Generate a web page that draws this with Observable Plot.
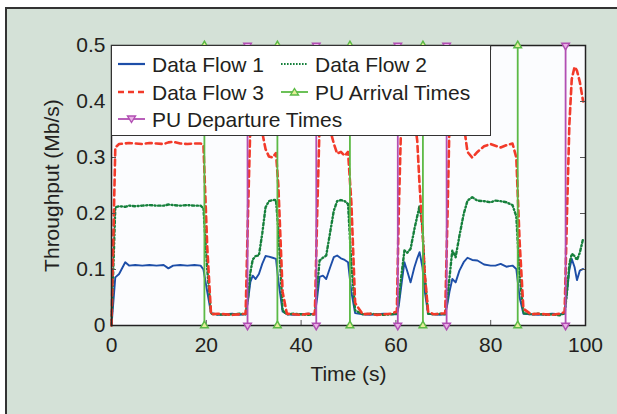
<!DOCTYPE html>
<html><head><meta charset="utf-8">
<script src="https://cdn.jsdelivr.net/npm/d3@7"></script>
<script src="https://cdn.jsdelivr.net/npm/@observablehq/plot@0.6"></script>
<style>
html,body{margin:0;padding:0;background:#fff;}
#wrap{position:relative;width:617px;height:414px;overflow:hidden;font-family:"Liberation Sans",Arial,Helvetica,sans-serif;}
#panel{position:absolute;left:5px;top:7px;width:660px;height:460px;background:#d4e1d7;border-left:2px solid #333;border-top:2px solid #333;}
#chart{position:absolute;left:0;top:0;}
#legend{position:absolute;left:111px;top:45px;width:380px;height:91px;background:#fff;border:1.5px solid #333;box-sizing:border-box;}
.sw{position:absolute;width:30px;height:14px;transform:translateY(-50%);}
.lt{position:absolute;font-size:21px;line-height:21px;color:#231f20;white-space:nowrap;transform:translateY(-50%);}
</style>
</head><body>
<div id="wrap">
  <div id="panel"></div>
  <div id="chart"></div>
  <div id="legend"></div>
</div>
<script>
// ---- data ----
const T = [0,0.8,1.6,2.9,3.7,5,6.5,8,9.5,11,12,13,14.5,16,17.5,18.8,19.4,20.2,21,22.5,24,25.5,27,28.3,
  28.8,29.3,29.8,30.4,31.1,31.8,32.5,33.2,34,34.7,35.2,36.1,37,38.5,40,41.5,42.9,
  43.4,43.9,44.6,45.3,46.1,46.9,47.6,48.4,49.2,49.9,50.6,51.4,53,54.5,56,57.5,59,60.2,
  60.6,61.1,61.8,62.4,63.1,63.9,64.5,65.0,65.6,66.1,66.8,68,69.3,70.4,
  70.9,71.3,71.9,72.6,73.4,74.3,75.1,76.1,77.2,78.6,80,81,82.1,83.3,84.6,85.4,86.1,86.9,88.5,90,91.5,93,94.5,95.6,
  96.1,96.6,97.1,97.7,98.2,98.8,99.5];
const flow1 = [0,0.086,0.092,0.113,0.107,0.108,0.107,0.108,0.107,0.108,0.102,0.107,0.108,0.107,0.108,0.107,0.1,0.06,0.022,0.019,0.02,0.021,0.019,0.02,
  0.045,0.078,0.089,0.083,0.092,0.110,0.124,0.123,0.121,0.119,0.08,0.025,0.02,0.019,0.02,0.021,0.02,
  0.05,0.087,0.089,0.083,0.103,0.122,0.125,0.120,0.117,0.113,0.06,0.022,0.02,0.019,0.02,0.021,0.02,0.02,
  0.035,0.068,0.113,0.097,0.077,0.104,0.12,0.131,0.104,0.06,0.021,0.02,0.019,0.02,
  0.04,0.06,0.083,0.077,0.098,0.113,0.121,0.117,0.116,0.109,0.107,0.107,0.110,0.105,0.107,0.101,0.05,0.021,0.02,0.019,0.02,0.021,0.02,0.021,
  0.06,0.1,0.119,0.104,0.081,0.098,0.101];
const flow2 = [0,0.211,0.213,0.212,0.214,0.213,0.214,0.215,0.214,0.214,0.216,0.215,0.214,0.215,0.214,0.214,0.209,0.10,0.021,0.02,0.019,0.02,0.021,0.02,
  0.05,0.095,0.118,0.124,0.125,0.164,0.211,0.222,0.224,0.224,0.17,0.027,0.02,0.021,0.02,0.019,0.02,
  0.07,0.116,0.121,0.125,0.165,0.205,0.222,0.224,0.222,0.217,0.11,0.027,0.02,0.021,0.02,0.019,0.02,0.021,
  0.045,0.085,0.134,0.130,0.137,0.172,0.195,0.214,0.175,0.09,0.021,0.02,0.021,0.02,
  0.05,0.085,0.134,0.122,0.16,0.199,0.223,0.229,0.223,0.222,0.220,0.223,0.222,0.220,0.215,0.195,0.09,0.022,0.02,0.021,0.019,0.02,0.018,0.022,
  0.06,0.11,0.128,0.124,0.117,0.13,0.155];
const flow3 = [0,0.318,0.324,0.325,0.326,0.325,0.324,0.326,0.325,0.324,0.327,0.328,0.325,0.324,0.325,0.325,0.322,0.14,0.02,0.021,0.02,0.019,0.02,0.021,
  0.2,0.36,0.38,0.38,0.37,0.345,0.315,0.302,0.300,0.308,0.25,0.06,0.021,0.02,0.019,0.021,0.02,
  0.2,0.36,0.39,0.38,0.35,0.325,0.307,0.31,0.303,0.31,0.22,0.04,0.02,0.021,0.019,0.02,0.021,0.025,
  0.2,0.36,0.39,0.40,0.39,0.37,0.33,0.25,0.17,0.09,0.025,0.02,0.021,0.022,
  0.2,0.36,0.39,0.40,0.39,0.36,0.31,0.30,0.31,0.32,0.324,0.321,0.318,0.322,0.325,0.30,0.15,0.03,0.02,0.021,0.02,0.019,0.021,0.024,
  0.2,0.36,0.44,0.462,0.455,0.435,0.40];
const puArrival = [19.6, 35.0, 50.3, 65.7, 85.7];
const puDeparture = [28.7, 43.2, 60.4, 70.7, 95.8];
const xTicks = [0, 20, 40, 60, 80, 100];
const yTicks = [0, 0.1, 0.2, 0.3, 0.4, 0.5];
const yTickLabels = ["0", "0.1", "0.2", "0.3", "0.4", "0.5"];
const seriesNames = ["Data Flow 1", "Data Flow 2", "Data Flow 3", "PU Arrival Times", "PU Departure Times"];

// ---- styles ----
const C1 = "#1d4ea8", C2 = "#16803c", C3 = "#f23a2a", CA = "#5cba46", CD = "#b14fb3";
const FONT = '"Liberation Sans", Arial, Helvetica, sans-serif';

const rows = (vals) => T.map((t, i) => ({t, v: vals[i]}));
const ends = (arr) => arr.flatMap(t => [{t, v: 0}, {t, v: 0.5}]);

const plot = Plot.plot({
  width: 617, height: 414,
  marginLeft: 111, marginRight: 32, marginTop: 45, marginBottom: 89,
  style: {background: "transparent", fontFamily: FONT, fontSize: "21px", color: "#231f20", overflow: "visible"},
  x: {domain: [0, 100]},
  y: {domain: [0, 0.5]},
  marks: [
    Plot.frame({fill: "#fbfcfe", stroke: null}),
    Plot.line(rows(flow1), {x: "t", y: "v", stroke: C1, strokeWidth: 1.9}),
    Plot.line(rows(flow2), {x: "t", y: "v", stroke: C2, strokeWidth: 2.4, strokeDasharray: "2.5,2.5,1,2.5"}),
    Plot.line(rows(flow3), {x: "t", y: "v", stroke: C3, strokeWidth: 2.6, strokeDasharray: "6,4"}),
    Plot.ruleX(puArrival, {y1: 0, y2: 0.5, stroke: CA, strokeWidth: 1.8}),
    Plot.ruleX(puDeparture, {y1: 0, y2: 0.5, stroke: CD, strokeWidth: 1.8}),
    // inward ticks
    Plot.ruleX(xTicks.slice(1, -1), {y1: 0, y2: 0.009, stroke: "#555", strokeWidth: 1}),
    Plot.ruleX(xTicks.slice(1, -1), {y1: 0.491, y2: 0.5, stroke: "#555", strokeWidth: 1}),
    Plot.ruleY(yTicks.slice(1, -1), {x1: 0, x2: 1.05, stroke: "#555", strokeWidth: 1}),
    Plot.ruleY(yTicks.slice(1, -1), {x1: 98.95, x2: 100, stroke: "#555", strokeWidth: 1}),
    Plot.frame({stroke: "#222", strokeWidth: 1.5}),
    Plot.dot(ends(puArrival), {x: "t", y: "v", symbol: "triangle", r: 2.8, stroke: CA, fill: "#e6ee9a", strokeWidth: 1.5}),
    Plot.dot(ends(puDeparture), {x: "t", y: "v", symbol: "triangle", rotate: 180, r: 2.8, stroke: CD, fill: "#eab0e6", strokeWidth: 1.5}),
    Plot.axisX({ticks: xTicks, tickSize: 0, tickPadding: 12, label: null, fontSize: 21}),
    Plot.axisY({ticks: yTicks, tickSize: 0, tickPadding: 6, label: null, fontSize: 21,
      tickFormat: d => yTickLabels[yTicks.indexOf(d)]}),
    Plot.text(["Time (s)"], {frameAnchor: "bottom", lineAnchor: "top", dy: 41, fontSize: 21, fill: "#231f20"}),
    Plot.text(["Throughput (Mb/s)"], {frameAnchor: "left", textAnchor: "middle", rotate: -90, dx: -59, fontSize: 21, fill: "#231f20"})
  ]
});
document.getElementById("chart").appendChild(plot);

// ---- legend (overlay box inside plot area) ----
const legend = document.getElementById("legend");
const items = [
  {name: seriesNames[0], col: 0, row: 0, stroke: C1, w: 2.2, dash: null, sym: null},
  {name: seriesNames[1], col: 1, row: 0, stroke: C2, w: 2.2, dash: "1.6,1.4", sym: null},
  {name: seriesNames[2], col: 0, row: 1, stroke: C3, w: 2.4, dash: "6,4", sym: null},
  {name: seriesNames[3], col: 1, row: 1, stroke: CA, w: 1.8, dash: null, sym: "up"},
  {name: seriesNames[4], col: 0, row: 2, stroke: CD, w: 1.8, dash: null, sym: "down"}
];
const rowY = [18, 46, 72.5];
const swX = [5, 168];
const txX = [40, 203];
items.forEach(it => {
  const ns = "http://www.w3.org/2000/svg";
  const svg = document.createElementNS(ns, "svg");
  svg.setAttribute("class", "sw");
  svg.setAttribute("width", 30); svg.setAttribute("height", 14);
  svg.style.left = swX[it.col] + "px";
  svg.style.top = rowY[it.row] + "px";
  const ln = document.createElementNS(ns, "line");
  ln.setAttribute("x1", 1); ln.setAttribute("x2", 28); ln.setAttribute("y1", 7); ln.setAttribute("y2", 7);
  ln.setAttribute("stroke", it.stroke); ln.setAttribute("stroke-width", it.w);
  if (it.dash) ln.setAttribute("stroke-dasharray", it.dash);
  svg.appendChild(ln);
  if (it.sym) {
    const p = document.createElementNS(ns, "path");
    p.setAttribute("d", it.sym === "up" ? "M14.5,3.5L18.5,10L10.5,10Z" : "M14.5,10.5L18.5,4L10.5,4Z");
    p.setAttribute("stroke", it.stroke); p.setAttribute("stroke-width", 1.4);
    p.setAttribute("fill", it.sym === "up" ? "#e6ee9a" : "#eab0e6");
    svg.appendChild(p);
  }
  legend.appendChild(svg);
  const tx = document.createElement("div");
  tx.className = "lt";
  tx.textContent = it.name;
  tx.style.left = txX[it.col] + "px";
  tx.style.top = rowY[it.row] + "px";
  legend.appendChild(tx);
});
</script>
</body></html>
